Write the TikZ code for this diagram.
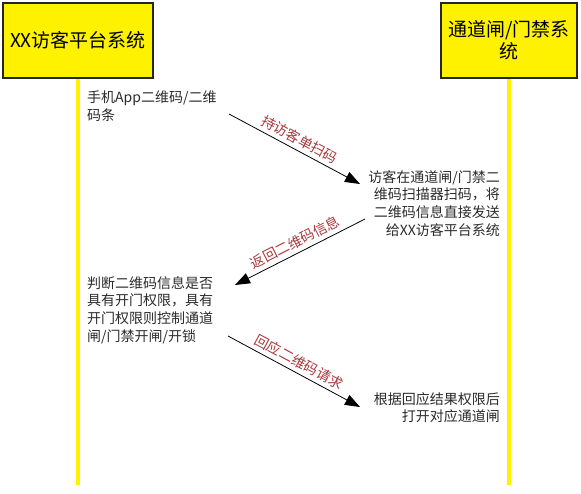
\documentclass[tikz,border=0pt]{standalone}
\usepackage{fontspec}
\setmainfont{Noto Sans CJK SC}
\usetikzlibrary{arrows.meta}
\definecolor{lblred}{HTML}{A8383B}
\definecolor{txtgray}{HTML}{2A2A2A}
\begin{document}
\begin{tikzpicture}[x=1pt,y=-1pt,
  actor/.style={draw=black!85, line width=1.2pt, fill=yellow, align=center,
    font=\fontsize{19}{22}\selectfont, inner sep=2pt},
  lifeedge/.style={draw=black!35, line width=4.6pt},
  lifefill/.style={draw=yellow, line width=3.4pt},
  msg/.style={draw=black, line width=0.8pt, -{Triangle[length=15pt,width=11pt]}},
  lbl/.style={text=lblred, font=\fontsize{14}{16}\selectfont, sloped, above=4pt, inner sep=0pt},
  note/.style={text=txtgray, font=\fontsize{14}{17.8}\selectfont, inner sep=0pt}]
\useasboundingbox (0,0) rectangle (581,493);

% actors
\node[actor, minimum width=150pt, minimum height=75pt] (A) at (78,40.5) {XX访客平台系统};
\node[actor, minimum width=136pt, minimum height=75pt] (B) at (509,40.5) {通道闸/门禁系\\统};

% lifelines
\coordinate (Aend) at (78,485);
\coordinate (Bend) at (509,485);
\draw[lifeedge] (A.south) -- (Aend);
\draw[lifefill] (A.south) -- (Aend);
\draw[lifeedge] (B.south) -- (Bend);
\draw[lifefill] (B.south) -- (Bend);

% notes
\node[note, anchor=north west, align=left] (n1) at (87,91) {手机App二维码/二维\\码条};
\node[note, anchor=north east, align=right] (n2) at (500,170) {访客在通道闸/门禁二\\维码扫描器扫码，将\\二维码信息直接发送\\给XX访客平台系统};
\node[note, anchor=north west, align=left] (n3) at (87,276) {判断二维码信息是否\\具有开门权限，具有\\开门权限则控制通道\\闸/门禁开闸/开锁};
\node[note, anchor=north east, align=right] (n4) at (500,392) {根据回应结果权限后\\打开对应通道闸};

% message endpoints
\coordinate (m1s) at (229,114);
\coordinate (m1e) at (360,184);
\coordinate (m2s) at (365,219);
\coordinate (m2e) at (235,285);
\coordinate (m3s) at (228,336);
\coordinate (m3e) at (360,407);

\draw[msg] (m1s) -- node[lbl] {持访客单扫码} (m1e);
\draw[msg] (m2s) -- node[lbl] {返回二维码信息} (m2e);
\draw[msg] (m3s) -- node[lbl] {回应二维码请求} (m3e);
\end{tikzpicture}
\end{document}
